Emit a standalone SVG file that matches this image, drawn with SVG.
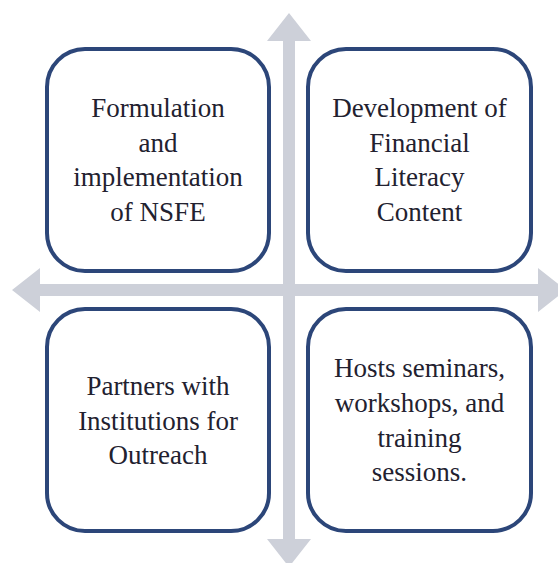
<svg xmlns="http://www.w3.org/2000/svg" width="558" height="563" viewBox="0 0 558 563">
  <style>
    .axis { fill: #cdd0d9; }
    .box { fill: #ffffff; stroke: #2c4679; stroke-width: 4; }
    .label { font-family: "Liberation Serif", "Times New Roman", serif; font-size: 27px; fill: #22212f; text-anchor: middle; }
  </style>
  <rect width="558" height="563" fill="#ffffff"/>

  <!-- crossed double-headed axes -->
  <g id="connectors">
    <polygon class="axis" points="289,13 311,41 295,41 295,539 311,539 289,567 267,539 283,539 283,41 267,41"/>
    <polygon class="axis" points="12,290 40,268 40,284 538,284 538,268 566,290 538,312 538,296 40,296 40,312"/>
  </g>

  <g id="node-nsfe">
    <rect class="box" x="47" y="49" width="222" height="222" rx="38"/>
    <text class="label" x="158" y="117">Formulation</text>
    <text class="label" x="158" y="152">and</text>
    <text class="label" x="158" y="186">implementation</text>
    <text class="label" x="158" y="221">of NSFE</text>
  </g>

  <g id="node-content">
    <rect class="box" x="308" y="49" width="223" height="222" rx="38"/>
    <text class="label" x="419.5" y="117">Development of</text>
    <text class="label" x="419.5" y="152">Financial</text>
    <text class="label" x="419.5" y="186">Literacy</text>
    <text class="label" x="419.5" y="221">Content</text>
  </g>

  <g id="node-partners">
    <rect class="box" x="47" y="309" width="222" height="222" rx="38"/>
    <text class="label" x="158" y="395">Partners with</text>
    <text class="label" x="158" y="430">Institutions for</text>
    <text class="label" x="158" y="464">Outreach</text>
  </g>

  <g id="node-seminars">
    <rect class="box" x="308" y="309" width="223" height="222" rx="38"/>
    <text class="label" x="419.5" y="377">Hosts seminars,</text>
    <text class="label" x="419.5" y="412">workshops, and</text>
    <text class="label" x="419.5" y="447">training</text>
    <text class="label" x="419.5" y="481">sessions.</text>
  </g>
</svg>
